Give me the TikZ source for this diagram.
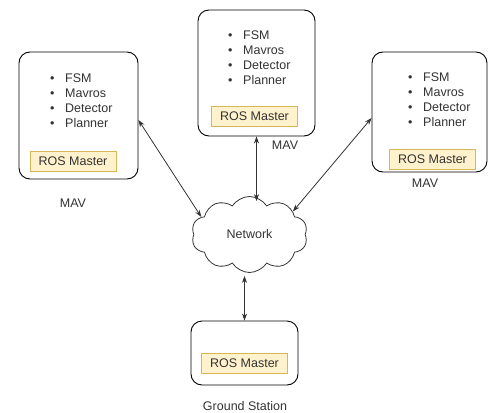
\documentclass[tikz,border=0pt]{standalone}
\usepackage{fontspec}
\setmainfont{Liberation Sans}
\usetikzlibrary{shapes.symbols,arrows.meta}
\definecolor{rosfill}{HTML}{FFF2CC}
\definecolor{rosdraw}{HTML}{D6B656}
\definecolor{linegray}{HTML}{333333}
\definecolor{txtgray}{HTML}{333333}
\tikzset{
  mavbox/.style={draw=black, line width=0.9pt, rounded corners=11pt},
  rosbox/.style={draw=rosdraw, fill=rosfill, line width=0.7pt, minimum width=86pt, minimum height=20pt, inner sep=0pt, font=\fontsize{12.5}{14}\selectfont, text=txtgray},
  lbl/.style={font=\fontsize{12.5}{14}\selectfont, text=txtgray, inner sep=0pt},
  blist/.style={font=\fontsize{12.5}{15}\selectfont, text=txtgray, align=left, inner sep=0pt, anchor=west},
  link/.style={draw=linegray, line width=0.8pt, {Stealth[length=7pt,width=5pt]}-{Stealth[length=7pt,width=5pt]}}
}
\newcommand{\bul}{\makebox[15pt][l]{\textbullet}}
\begin{document}
\begin{tikzpicture}[x=1pt,y=-1pt]
\useasboundingbox (0,0) rectangle (489,412);
% boxes
\node[mavbox, minimum width=119pt, minimum height=127pt] (lbox) at (78.5,115.5) {};
\node[mavbox, minimum width=117pt, minimum height=126pt] (tbox) at (256.5,73) {};
\node[mavbox, minimum width=115pt, minimum height=120pt] (rbox) at (429.5,112) {};
\node[mavbox, minimum width=107pt, minimum height=64pt] (gbox) at (244.5,353) {};
% lists
\node[blist] (llist) at (50,100.5) {\bul FSM\\\bul Mavros\\\bul Detector\\\bul Planner};
\node[blist] (tlist) at (228,57.5) {\bul FSM\\\bul Mavros\\\bul Detector\\\bul Planner};
\node[blist] (rlist) at (408,100) {\bul FSM\\\bul Mavros\\\bul Detector\\\bul Planner};
% ROS master
\node[rosbox] (lros) at (73,161.5) {ROS Master};
\node[rosbox] (tros) at (254.5,116) {ROS Master};
\node[rosbox] (rros) at (432.5,159) {ROS Master};
\node[rosbox] (gros) at (244.5,363.5) {ROS Master};
% labels
\node[lbl] (lmav) at (73,203) {MAV};
\node[lbl] (tmav) at (285,145) {MAV};
\node[lbl] (rmav) at (425,183) {MAV};
\node[lbl] (glbl) at (245,406) {Ground Station};
% cloud
\node[cloud, draw=black!80, line width=0.8pt, cloud puffs=10, cloud puff arc=115, aspect=1.6, minimum width=116pt, minimum height=76pt, inner sep=0pt, font=\fontsize{12.5}{14}\selectfont, text=txtgray] (net) at (249.5,234.5) {Network};
% links
\draw[link] ([yshift=-4.5pt]lbox.east) -- (net.160);
\draw[link] (tbox.south) -- ([yshift=-5pt]tbox.south |- net.north);
\draw[link] ([yshift=-6pt]rbox.west) -- (net.28);
\draw[link] (gbox.north) -- ([yshift=-3pt]gbox.north |- net.south);
\end{tikzpicture}
\end{document}
